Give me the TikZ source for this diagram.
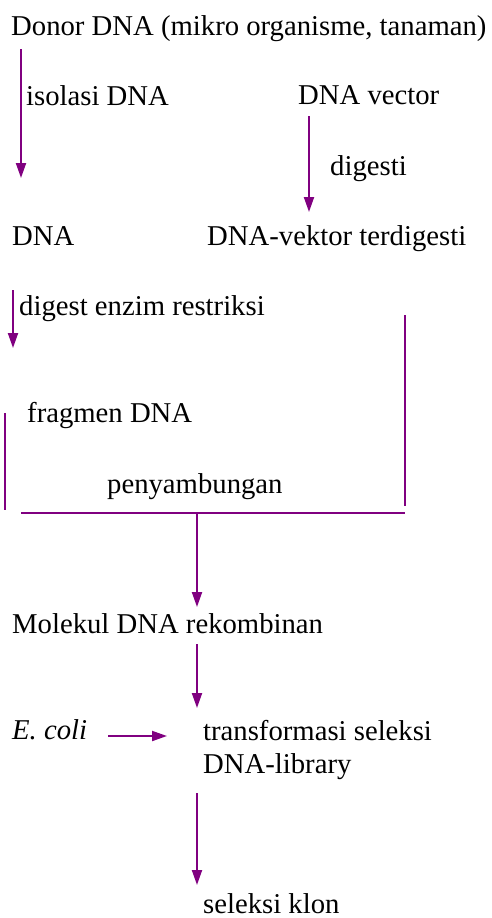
\documentclass[tikz,border=0pt]{standalone}
\usepackage{fontspec}
\setmainfont{Liberation Serif}
\usetikzlibrary{arrows.meta}
\definecolor{vio}{HTML}{800080}
\begin{document}
\begin{tikzpicture}[x=1pt,y=-1pt,
  lbl/.style={anchor=base west,inner sep=0pt,font=\fontsize{28.7}{33}\selectfont},
  flow/.style={draw=vio,line width=2pt,-{Triangle[length=15pt,width=10pt]}},
  link/.style={draw=vio,line width=2pt}]
\useasboundingbox (0,0) rectangle (492,918);
% texts
\node[lbl] (donor) at (11,35) {Donor DNA (mikro organisme, tanaman)};
\node[lbl] (iso) at (26,105) {isolasi DNA};
\node[lbl] (vec) at (298,104) {DNA vector};
\node[lbl] (dig) at (330,175) {digesti};
\node[lbl] (dna) at (12,245) {DNA};
\node[lbl] (vekt) at (207,245) {DNA-vektor terdigesti};
\node[lbl] (enz) at (19,315) {digest enzim restriksi};
\node[lbl] (frag) at (27,422) {fragmen DNA};
\node[lbl] (peny) at (107,493) {penyambungan};
\node[lbl] (mol) at (12,633) {Molekul DNA rekombinan};
\node[lbl] (ecoli) at (12,739) {\textit{E. coli}};
\node[lbl] (trans) at (203,740) {transformasi seleksi};
\node[lbl] (lib) at (203,773) {DNA-library};
\node[lbl] (klon) at (203,913) {seleksi klon};
% connector end points
\coordinate (a1s) at (21,49);  \coordinate (a1e) at (21,178);
\coordinate (a2s) at (309,116); \coordinate (a2e) at (309,212);
\coordinate (a3s) at (13,290); \coordinate (a3e) at (13,348);
\coordinate (l1s) at (5,413);  \coordinate (l1e) at (5,510);
\coordinate (r1s) at (405,315); \coordinate (r1e) at (405,506);
\coordinate (hl) at (21,513);  \coordinate (hr) at (405,513);
\coordinate (hm) at (197,513); \coordinate (a4e) at (197,607);
\coordinate (a5s) at (197,644); \coordinate (a5e) at (197,708);
\coordinate (a6s) at (108,736); \coordinate (a6e) at (167,736);
\coordinate (a7s) at (197,793); \coordinate (a7e) at (197,885);
% connectors
\draw[flow] (a1s) -- (a1e);
\draw[flow] (a2s) -- (a2e);
\draw[flow] (a3s) -- (a3e);
\draw[link] (l1s) -- (l1e);
\draw[link] (r1s) -- (r1e);
\draw[link] (hl) -- (hr);
\draw[flow] (hm) -- (a4e);
\draw[flow] (a5s) -- (a5e);
\draw[flow] (a6s) -- (a6e);
\draw[flow] (a7s) -- (a7e);
\end{tikzpicture}
\end{document}
